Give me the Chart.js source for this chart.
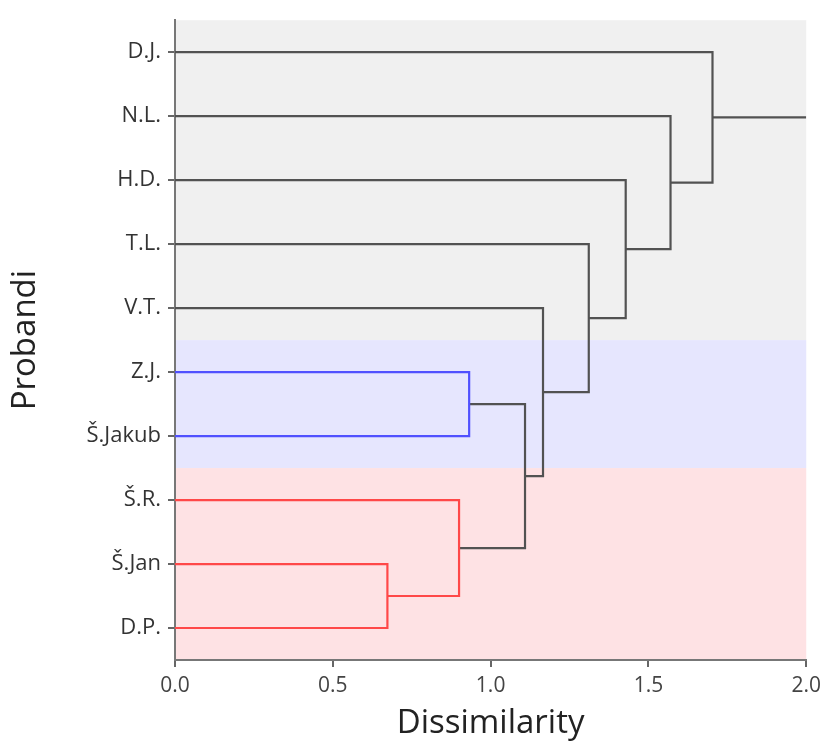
<!DOCTYPE html>
<html>
<head>
<meta charset="utf-8">
<script src="https://cdn.jsdelivr.net/npm/chart.js@4.4.1/dist/chart.umd.min.js"></script>
<style>
  html, body { margin: 0; padding: 0; background: #fff; }
  #wrap { width: 827px; height: 747px; }
</style>
</head>
<body>
<div id="wrap"><canvas id="dendro" width="827" height="747"></canvas></div>
<script>
// leaves, top to bottom
const leaves = ['D.J.', 'N.L.', 'H.D.', 'T.L.', 'V.T.', 'Z.J.', 'Š.Jakub', 'Š.R.', 'Š.Jan', 'D.P.'];

// merges: [child A, child B, dissimilarity]; new cluster ids start at 10
const mergeA = [8, 7, 5, 12, 4, 3, 2, 1, 0];
const mergeB = [9, 10, 6, 11, 13, 14, 15, 16, 17];
const mergeHeight = [0.673, 0.900, 0.932, 1.109, 1.166, 1.311, 1.428, 1.570, 1.703];
const mergeGroup = ['red', 'red', 'blue', 'none', 'none', 'none', 'none', 'none', 'none'];

const xTicks = [0, 0.5, 1.0, 1.5, 2.0];
const xMax = 2.0;

// cluster bands (leaf index ranges)
const bandFrom = [-0.5, 4.5, 6.5];
const bandTo = [4.5, 6.5, 9.5];
const bandGroup = ['none', 'blue', 'red'];

const lineColor = { none: '#525252', blue: '#5050ff', red: '#ff4848' };
const bandColor = { none: '#f0f0f0', blue: '#e6e6fe', red: '#fee2e4' };

function buildLinks() {
    let pos = leaves.map((_, i) => ({ x: 0, y: i }));
    let sets = [];
    for (let k = 0; k < mergeHeight.length; k++) {
        let a = pos[mergeA[k]], b = pos[mergeB[k]], h = mergeHeight[k];
        sets.push({
            data: [{ x: a.x, y: a.y }, { x: h, y: a.y }, { x: h, y: b.y }, { x: b.x, y: b.y }],
            borderColor: lineColor[mergeGroup[k]]
        });
        pos.push({ x: h, y: (a.y + b.y) / 2 });
    }
    // root tail
    let root = pos[pos.length - 1];
    sets.push({ data: [{ x: root.x, y: root.y }, { x: xMax, y: root.y }], borderColor: lineColor.none });
    return sets.map(s => Object.assign(s, {
        borderWidth: 2.2, pointRadius: 0, tension: 0, fill: false, borderJoinStyle: 'miter'
    }));
}

const bandsPlugin = {
    id: 'bands',
    beforeDraw(chart) {
        const { ctx, scales: { x, y } } = chart;
        ctx.save();
        for (let i = 0; i < bandFrom.length; i++) {
            let y1 = y.getPixelForValue(bandFrom[i]);
            let y2 = y.getPixelForValue(bandTo[i]);
            ctx.fillStyle = bandColor[bandGroup[i]];
            ctx.fillRect(x.getPixelForValue(0), y1, x.getPixelForValue(xMax) - x.getPixelForValue(0), y2 - y1);
        }
        ctx.restore();
    }
};

const font = "'Open Sans', 'Noto Sans', sans-serif";

new Chart(document.getElementById('dendro'), {
    type: 'line',
    data: { datasets: buildLinks() },
    plugins: [bandsPlugin],
    options: {
        responsive: false,
        animation: false,
        layout: { padding: { top: 17, right: 19, left: 0, bottom: 0 } },
        plugins: { legend: { display: false }, tooltip: { enabled: false } },
        scales: {
            x: {
                type: 'linear',
                min: 0,
                max: xMax,
                afterBuildTicks: s => { s.ticks = xTicks.map(v => ({ value: v })); },
                ticks: { callback: v => v.toFixed(1), color: '#444', font: { family: font, size: 21 }, padding: 6 },
                grid: { drawOnChartArea: false, tickLength: 7, color: '#666', lineWidth: 2 },
                border: { color: '#777', width: 2 },
                title: { display: true, text: 'Dissimilarity', color: '#222', font: { family: font, size: 33 }, padding: { top: 4 } },
                afterFit: s => { s.height = 87; }
            },
            y: {
                type: 'linear',
                min: -0.5,
                max: 9.5,
                reverse: true,
                afterBuildTicks: s => { s.ticks = leaves.map((_, i) => ({ value: i })); },
                ticks: { callback: v => leaves[v], color: '#333', font: { family: font, size: 22 }, padding: 7 },
                grid: { drawOnChartArea: false, tickLength: 7, color: '#666', lineWidth: 2 },
                border: { color: '#777', width: 2 },
                title: { display: true, text: 'Probandi', color: '#222', font: { family: font, size: 33 }, padding: { bottom: 0, top: 6 } },
                afterFit: s => { s.width = 175; }
            }
        }
    }
});
</script>
</body>
</html>
